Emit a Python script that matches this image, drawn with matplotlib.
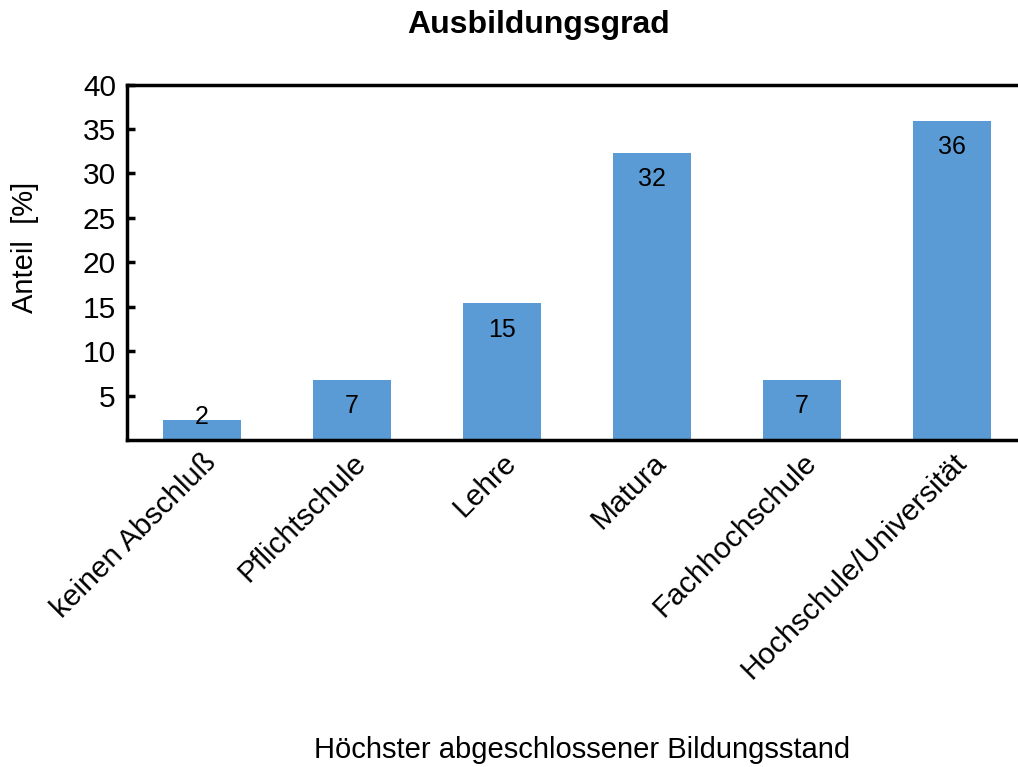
import matplotlib
matplotlib.use('Agg')
import matplotlib.pyplot as plt

# Anteil je Bildungsstand (in %)
categories = ['keinen Abschluß', 'Pflichtschule', 'Lehre', 'Matura',
              'Fachhochschule', 'Hochschule/Universität']
values = [2.26, 6.77, 15.4, 32.3, 6.77, 35.9]
yticks = [5, 10, 15, 20, 25, 30, 35, 40]

plt.rcParams['font.family'] = ['Liberation Sans', 'DejaVu Sans']

fig = plt.figure(figsize=(10.18, 7.67), dpi=100)
ax = fig.add_axes([0.1248, 0.4263, 0.884, 0.4635])

x = range(len(categories))
bars = ax.bar(x, values, width=0.52, color='#5B9BD5')

# labels inside the bar top, like excel "inside end"
for xi, v in zip(x, values):
    if v > 5:
        ax.annotate('%.0f' % v, (xi, v), xytext=(0, -19), textcoords='offset points',
                    ha='center', va='center', fontsize=18)
    else:
        ax.annotate('%.0f' % v, (xi, v), xytext=(0, 2), textcoords='offset points',
                    ha='center', va='center', fontsize=18)

ax.set_xlim(-0.5, len(categories) - 0.5)
ax.set_ylim(0, 40)
ax.set_yticks(yticks)
ax.set_xticks(list(x))
ax.set_xticklabels(categories, rotation=45, ha='right', rotation_mode='anchor', fontsize=21.5)
ax.tick_params(axis='y', direction='in', length=6, width=2.5, labelsize=21.5, pad=8)
ax.tick_params(axis='x', length=0, pad=6)
for s in ax.spines.values():
    s.set_linewidth(2.5)

fig.text(0.529, 0.967, 'Ausbildungsgrad', ha='center', va='center',
         fontsize=23, fontweight='bold')
fig.text(0.025, 0.678, 'Anteil  [%]', rotation=90, ha='center', va='center', fontsize=21)
fig.text(0.572, 0.022, 'Höchster abgeschlossener Bildungsstand', ha='center', va='center',
         fontsize=21)

fig.savefig('out.png', dpi=100)
